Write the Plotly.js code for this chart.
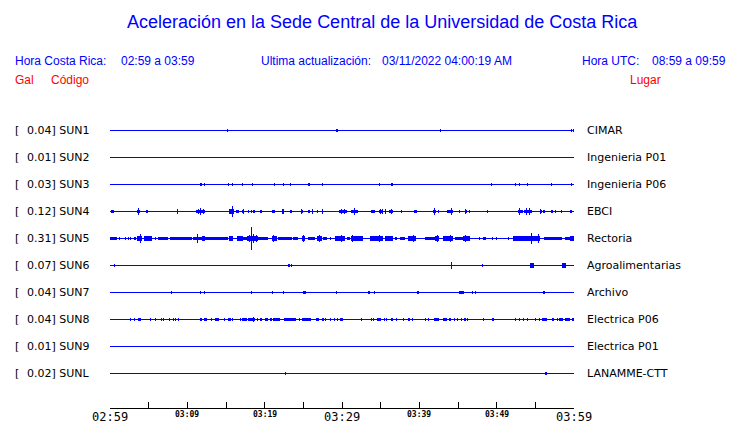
<!DOCTYPE html>
<html><head><meta charset="utf-8">
<script src="https://cdn.plot.ly/plotly-3.0.1.min.js"></script>
<style>html,body{margin:0;padding:0;background:#fff}</style>
</head><body><div id="chart" style="width:740px;height:423px"></div>
<script>
// ---- data ----
const codes = ['SUN1','SUN2','SUN3','SUN4','SUN5','SUN6','SUN7','SUN8','SUN9','SUNL'];
const peakGal = ['0.04','0.01','0.03','0.12','0.31','0.07','0.04','0.04','0.01','0.02'];
const places = ['CIMAR','Ingenieria P01','Ingenieria P06','EBCI','Rectoria','Agroalimentarias','Archivo','Electrica P06','Electrica P01','LANAMME-CTT'];
const tickMinutes = [0,5,10,15,20,25,30,35,40,45,50,55,60];
const tickLabels = ['02:59','','03:09','','03:19','','03:29','','03:39','','03:49','','03:59'];
const majorLabels = ['02:59','03:29','03:59'];

// each event: [start minute, end minute, half amplitude]
const SUN1 = [[15.17,15.17,1.5],[29.2,29.45,1.5],[42.71,42.71,1.5],[59.70,59.70,1.5],[59.91,59.91,1.5]];
const SUN2 = [];
const SUN3 = [[11.64,11.9,1.5],[12.19,12.19,1.5],[15.30,15.30,1.5],[15.81,15.81,1.5],[17.11,17.11,1.5],[18.3,18.5,1.5],[21.21,21.21,1.5],[22.40,22.40,1.5],[23.31,23.31,1.5],[25.6,25.8,1.5],[27.45,27.45,1.5],[34.82,34.82,1.5],[36.35,36.55,1.5],[49.36,49.36,1.5],[52.41,52.41,1.5],[52.93,52.93,1.5],[53.96,53.96,1.5],[57.06,57.06,1.5],[59.65,59.65,1.5]];
const SUN4 = [[0.13,0.56,1.5],[3.49,3.84,1.5],[3.66,3.66,3.5],[4.66,4.87,1.5],[8.79,8.79,2.5],[11.12,12.28,1.5],[11.73,11.73,3.5],[11.4,11.5,2.5],[12.0,12.1,2.5],[15.39,16.07,2.5],[15.81,15.81,5.5],[16.29,16.68,1.5],[17.07,17.37,1.5],[17.2,17.2,2.5],[17.81,17.97,1.5],[18.32,18.32,1.5],[18.62,18.62,1.5],[19.40,19.62,1.5],[20.99,21.34,1.5],[22.37,22.37,2.5],[23.24,23.50,1.5],[24.70,24.92,1.5],[24.81,24.81,2.5],[25.64,25.82,1.5],[26.16,26.16,2.5],[26.77,26.77,1.5],[27.45,27.60,1.5],[27.5,27.5,2.5],[29.61,29.87,1.5],[29.74,30.61,1.5],[29.9,29.9,2.5],[30.3,30.3,2.5],[31.16,32.03,1.5],[31.58,31.58,3.5],[33.75,34.23,1.5],[34.82,35.34,1.5],[34.95,34.95,2.5],[35.2,35.2,2.5],[35.60,35.60,2.5],[36.12,36.56,1.5],[36.4,36.4,2.5],[37.65,37.8,1.5],[39.31,39.70,1.5],[41.81,42.15,1.5],[42.0,42.0,3.5],[42.37,42.58,1.5],[43.58,44.39,1.5],[44.13,44.13,3.5],[45.13,45.13,1.5],[45.91,46.20,1.5],[46.0,46.0,2.5],[46.46,46.46,1.5],[48.79,48.79,1.5],[52.76,53.37,1.5],[53.0,53.0,3.5],[53.53,54.53,1.5],[53.8,53.8,3.5],[54.3,54.3,3.5],[55.60,55.86,1.5],[55.7,55.7,2.5],[56.12,56.12,1.5],[57.06,57.25,1.5],[57.67,57.67,1.5],[58.41,58.41,1.5],[59.48,59.74,1.5]];
const SUN5 = [[0,0.87,1.5],[1.29,1.29,1.5],[1.94,1.94,1.5],[2.37,2.37,1.5],[2.59,2.59,1.5],[3.10,3.36,1.5],[3.45,4.10,2.5],[3.88,3.88,4.5],[4.40,5.39,2.5],[5.82,5.82,1.5],[6.25,7.54,1.5],[7.76,10.12,1.5],[10.12,10.56,1.5],[10.77,11.86,1.5],[11.34,11.34,4.5],[11.86,12.28,2.5],[12.28,15.30,1.5],[15.39,15.94,2.5],[16.38,17.24,2.5],[17.24,17.68,1.5],[17.68,19.18,2.5],[18.36,18.36,11.5],[18.0,18.0,3.5],[18.6,18.6,4.5],[18.9,18.9,3.5],[19.18,20.47,1.5],[20.91,21.56,2.5],[21.2,21.2,3.5],[21.76,23.50,1.5],[23.70,24.27,1.5],[24.79,25.22,2.5],[25.0,25.0,3.5],[25.64,26.51,1.5],[26.73,27.37,2.5],[27.03,27.03,3.5],[27.58,28.02,1.5],[28.45,28.45,1.5],[29.09,30.39,2.5],[29.9,29.9,3.5],[30.61,31.03,1.5],[31.16,32.75,2.5],[31.4,31.4,3.5],[33.62,34.27,2.5],[34.27,35.34,2.5],[34.82,34.82,3.5],[35.56,36.63,2.5],[36.85,37.07,1.5],[37.50,38.15,1.5],[38.57,39.57,2.5],[39.2,39.2,3.5],[40.73,42.03,1.5],[42.03,42.58,2.5],[42.3,42.3,3.5],[43.10,44.39,2.5],[44.0,44.0,3.5],[44.61,45.69,1.5],[45.69,46.55,2.5],[46.0,46.0,3.5],[47.84,47.84,1.5],[48.27,48.58,1.5],[49.36,49.56,1.5],[50.00,50.00,1.5],[51.50,51.50,1.5],[52.15,53.24,2.5],[53.24,54.31,2.5],[54.53,54.53,5.5],[54.31,55.60,2.5],[55.43,55.43,4.5],[56.12,56.55,1.5],[56.55,58.41,1.5],[58.84,59.48,1.5],[59.48,60,2.5]];
const SUN6 = [[0.56,0.56,1.5],[22.98,23.31,1.5],[23.41,23.41,1.5],[44.13,44.13,3.5],[48.14,48.14,1.5],[54.31,54.83,2.5],[58.49,58.93,2.5]];
const SUN7 = [[7.93,7.93,1.5],[11.68,11.68,1.5],[12.19,12.19,1.5],[18.32,18.32,1.5],[20.99,20.99,1.5],[22.40,22.40,1.5],[24.96,25.34,1.5],[29.26,29.26,1.5],[33.36,33.62,1.5],[34.23,34.23,1.5],[39.7,39.9,1.5],[45.13,45.78,1.5],[46.90,46.90,1.5],[47.24,47.24,1.5],[55.99,56.29,1.5]];
const SUN8 = [[2.62,2.62,1.5],[3.14,3.14,1.5],[3.62,3.97,1.5],[5.21,5.21,1.5],[5.86,5.86,1.5],[6.63,6.63,1.5],[6.94,6.94,1.5],[7.63,7.63,1.5],[8.24,8.24,1.5],[8.53,8.53,1.5],[8.83,8.83,1.5],[11.68,11.94,1.5],[12.19,12.58,1.5],[13.02,13.15,1.5],[13.58,14.06,1.5],[14.83,14.83,1.5],[15.30,15.61,1.5],[15.90,15.90,1.5],[16.85,16.85,1.5],[17.11,17.68,1.5],[17.88,18.75,1.5],[18.50,18.50,2.5],[18.97,19.18,1.5],[19.36,19.62,1.5],[20.04,20.47,1.5],[20.73,20.91,1.5],[21.12,21.98,1.5],[22.54,24.01,1.5],[24.48,24.48,1.5],[24.79,25.95,1.5],[26.64,27.03,1.5],[27.45,27.67,1.5],[27.93,27.93,1.5],[28.49,28.49,1.5],[29.09,29.09,1.5],[29.39,29.39,1.5],[29.74,30.09,1.5],[32.46,32.46,1.5],[33.79,33.79,1.5],[34.05,34.05,1.5],[34.53,35.04,1.5],[35.47,35.47,1.5],[35.78,35.78,1.5],[36.34,36.56,1.5],[37.07,37.07,1.5],[37.93,37.93,1.5],[38.57,38.79,1.5],[39.14,39.14,1.5],[40.77,40.77,1.5],[41.16,41.16,1.5],[41.94,42.58,1.5],[43.02,43.54,1.5],[43.87,44.09,1.5],[44.61,44.61,1.5],[44.91,44.91,1.5],[45.43,45.43,1.5],[45.78,46.03,1.5],[46.20,46.20,1.5],[48.27,48.27,1.5],[49.43,49.62,1.5],[52.41,52.41,1.5],[52.93,52.93,1.5],[53.44,53.44,1.5],[53.96,53.96,1.5],[54.96,54.96,1.5],[55.51,55.51,1.5],[55.82,56.47,1.5],[57.12,57.45,1.5],[57.76,57.97,1.5],[58.10,58.62,1.5],[58.87,59.48,1.5],[59.74,60,1.5]];
const SUN9 = [];
const SUNL = [[22.63,22.63,1.5],[56.25,56.47,1.5]];
const stationEvents = [SUN1,SUN2,SUN3,SUN4,SUN5,SUN6,SUN7,SUN8,SUN9,SUNL];

// ---- drawing ----
const BLUE = '#0000ff';
const SPACING = 27;
const MINW = 0.13;
const PL = 110, PR = 574, PT = 115, PB = 408;
const px2x = p => (p - PL) / (PR - PL);
const py2y = p => (PB - p) / (PB - PT);

const traces = [];
const annotations = [];
codes.forEach((code, i) => {
  const off = i * SPACING;
  traces.push({type:'scatter', mode:'lines', x:[tickMinutes[0], tickMinutes[tickMinutes.length-1]], y:[off, off],
    line:{color:BLUE, width:1}, hoverinfo:'skip'});
  const ev = stationEvents[i];
  if (ev.length) {
    traces.push({type:'bar', x: ev.map(e => (e[0]+e[1])/2), width: ev.map(e => Math.max(e[1]-e[0], MINW)),
      base: ev.map(e => off - e[2]), y: ev.map(e => 2*e[2]),
      marker:{color:BLUE, line:{width:0}}, hoverinfo:'skip'});
  }
  annotations.push({xref:'paper', yref:'y', x:px2x(15), y:off, text:'[', xanchor:'left', yanchor:'middle', showarrow:false,
    font:{family:'DejaVu Sans', size:11, color:'#000'}, borderpad:0, borderwidth:0});
  annotations.push({xref:'paper', yref:'y', x:px2x(27), y:off, text:peakGal[i] + '] ' + code, xanchor:'left', yanchor:'middle', showarrow:false,
    font:{family:'DejaVu Sans', size:11, color:'#000'}, borderpad:0, borderwidth:0});
  annotations.push({xref:'paper', yref:'y', x:px2x(587), y:off, text:places[i], xanchor:'left', yanchor:'middle', showarrow:false,
    font:{family:'DejaVu Sans', size:11, color:'#000'}, borderpad:0, borderwidth:0});
});

tickMinutes.forEach((m, i) => {
  const t = tickLabels[i];
  if (!t) return;
  const major = majorLabels.includes(t);
  annotations.push({xref:'x', yref:'paper', x:m, y:0, text:t, xanchor:'center', yanchor:'middle', showarrow:false,
    yshift: major ? -9 : -6, borderpad:0, borderwidth:0,
    font:{family:'DejaVu Sans Mono', size: major ? 12 : 8, color:'#000', weight: major ? 'normal' : 'bold'}});
});

function txt(text, px, py, color, size, anchor) {
  annotations.push({xref:'paper', yref:'paper', x:px2x(px), y:py2y(py), text:text, xanchor:anchor||'left', yanchor:'middle',
    showarrow:false, borderpad:0, borderwidth:0, font:{family:'Liberation Sans, Arial', size:size, color:color}});
}
txt('Aceleración en la Sede Central de la Universidad de Costa Rica', 382, 22, BLUE, 18, 'center');
txt('Hora Costa Rica:', 15, 61, BLUE, 12);
txt('02:59 a 03:59', 121, 61, BLUE, 12);
txt('Ultima actualización:', 261, 61, BLUE, 12);
txt('03/11/2022 04:00:19 AM', 382, 61, BLUE, 12);
txt('Hora UTC:', 582, 61, BLUE, 12);
txt('08:59 a 09:59', 652, 61, BLUE, 12);
txt('Gal', 15, 80, '#ff0000', 12);
txt('Código', 51, 80, '#ff0000', 12);
txt('Lugar', 630, 80, '#ff0000', 12);

const layout = {
  width:740, height:423, margin:{l:PL, r:740-PR, t:PT, b:423-PB, pad:0},
  paper_bgcolor:'#fff', plot_bgcolor:'#fff', showlegend:false, barmode:'overlay', bargap:0,
  hovermode:false,
  xaxis:{range:[tickMinutes[0], tickMinutes[tickMinutes.length-1]], tickvals:tickMinutes, ticktext:tickMinutes.map(() => ''),
    ticks:'inside', ticklen:6, tickwidth:1, tickcolor:'#000', showline:true, linecolor:'#000', linewidth:1,
    showgrid:false, zeroline:false, fixedrange:true},
  yaxis:{range:[9*SPACING + 34.5, -15.5], visible:false, showgrid:false, zeroline:false, fixedrange:true},
  annotations:annotations
};
Plotly.newPlot('chart', traces, layout, {staticPlot:true, displayModeBar:false});
</script></body></html>
